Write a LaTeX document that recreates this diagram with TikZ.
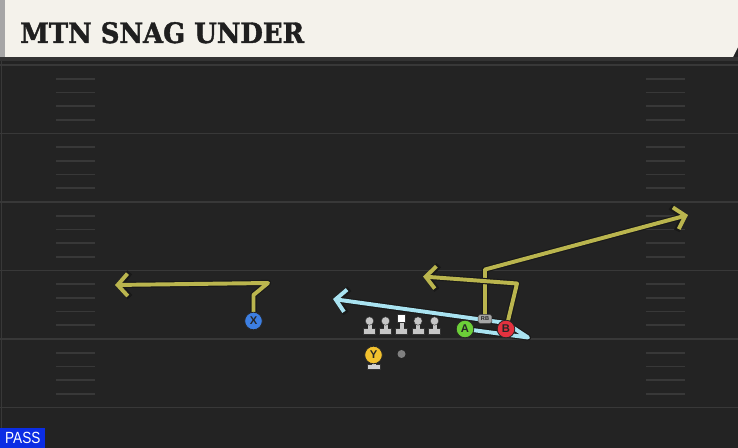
\documentclass[tikz,border=0pt]{standalone}
\usepackage{fontspec}
\usetikzlibrary{arrows.meta}
\newfontfamily\titlefont[FakeBold=1.6]{DejaVu Serif Bold}
\newfontfamily\tagfont{Liberation Sans}
\definecolor{turf}{HTML}{232323}
\definecolor{stripe}{HTML}{383838}
\definecolor{banner}{HTML}{F4F2EB}
\definecolor{routegold}{HTML}{BAB54E}
\definecolor{routeice}{HTML}{A9E3F1}
\definecolor{xblue}{HTML}{3D7FE2}
\definecolor{ygold}{HTML}{F2C12E}
\definecolor{agreen}{HTML}{6CCF38}
\definecolor{bred}{HTML}{E3323F}
\definecolor{passblue}{HTML}{0B2DE4}
\definecolor{lineman}{HTML}{C6C6C6}

\begin{document}
\begin{tikzpicture}[x=0.25mm,y=-0.25mm,
  yardline/.style={draw=stripe,line width=1.4pt},
  hashmark/.style={draw=stripe,line width=1.2pt},
  player/.style={circle,draw=black!85,line width=0.6pt,minimum size=4.4mm,inner sep=0pt,
    font=\tagfont\bfseries\fontsize{8}{8}\selectfont,text=black!85},
  routeshade/.style={draw=black!90,line width=4.4pt,line join=round,
    -{Straight Barb[length=2.7mm,width=6.2mm]}},
  route/.style={draw=#1,line width=2.8pt,line join=round,
    -{Straight Barb[length=2.5mm,width=5.6mm]}}]
\useasboundingbox (0,0) rectangle (738,448);
\fill [turf] (0,0) rectangle (738,448);
\draw [stripe,line width=0.8pt] (1.5,60) -- (1.5,448);
\foreach \y in {65,133.5,202,270.5,339,407.5}
	\draw [yardline] (0,\y) -- (738,\y);
\foreach \y in {65,133.5,202,270.5,339}
	\foreach \k in {1,...,4} {
		\draw [hashmark] (56,\y+\k*13.7) -- (95,\y+\k*13.7);
		\draw [hashmark] (646,\y+\k*13.7) -- (685,\y+\k*13.7);
	}
\fill [black!80] (0,57) rectangle (738,61);
\fill [banner] (0,0) -- (738,0) -- (738,47) -- (733,57) -- (0,57) -- cycle;
\fill [black!35] (0,0) rectangle (5,57);
\node [anchor=base west,inner sep=0pt,xscale=0.92,text=black!88,font=\titlefont\fontsize{20}{24}\selectfont] (title) at (20,43) {MTN SNAG UNDER};
\node [fill=passblue,anchor=south west,minimum width=11.25mm,minimum height=5mm,inner sep=0pt] (playtype) at (0,448) {};
\node [text=white,xscale=0.84,font=\tagfont\fontsize{11.5}{12}\selectfont] (playlabel) at (playtype.center) {PASS};

\coordinate (x) at (253.5,321);
\coordinate (y) at (373.5,355);
\coordinate (a) at (465,329);
\coordinate (b) at (506,329);
\coordinate (rb) at (485,319);
\coordinate (x1) at (253.5,295);
\coordinate (x2) at (268,283);
\coordinate (xend) at (115,285);
\coordinate (rb1) at (485,269.5);
\coordinate (rbend) at (688,215);
\coordinate (b1) at (517,283.5);
\coordinate (bend) at (423,276.5);
\coordinate (a1) at (528,337.5);
\coordinate (a2) at (506,323);
\coordinate (aend) at (333,299);

\draw [routeshade] (a) -- (a1) -- (a2) -- (aend);
\draw [route=routeice] (a) -- (a1) -- (a2) -- (aend);
\draw [routeshade] (x) -- (x1) -- (x2) -- (xend);
\draw [route=routegold] (x) -- (x1) -- (x2) -- (xend);
\draw [routeshade] (rb) -- (rb1) -- (rbend);
\draw [route=routegold] (rb) -- (rb1) -- (rbend);
\draw [routeshade] (b) -- (b1) -- (bend);
\draw [route=routegold] (b) -- (b1) -- (bend);

\foreach \lx in {369.5,385.5,418,434.5} {
	\fill [lineman,draw=black!80,line width=0.3pt] (\lx-6,328) rectangle (\lx+6,334);
	\fill [lineman] (\lx-2,321) rectangle (\lx+2,329);
	\fill [lineman,draw=black!80,line width=0.3pt] (\lx,321) circle (4.2);
}
\fill [lineman,draw=black!80,line width=0.3pt] (395.5,328) rectangle (407.5,334);
\fill [lineman] (399.5,321) rectangle (403.5,329);
\node [fill=white,draw=black!80,line width=0.3pt,minimum size=2mm,inner sep=0pt] (center) at (401.5,318.5) {};
\node [circle,fill=black!50,minimum size=2mm,inner sep=0pt] (ball) at (401.5,354) {};
\fill [lineman!80,draw=black!80,line width=0.3pt] (367,364) rectangle (380,369);
\fill [lineman!80] (371.5,360) rectangle (375.5,365);

\node [player,fill=xblue] (X) at (x) {X};
\node [player,fill=ygold] (Y) at (y) {Y};
\node [player,fill=agreen] (A) at (a) {A};
\node [player,fill=bred] (B) at (b) {B};
\node [rounded corners=1.2pt,fill=black!35,draw=black!80,line width=0.3pt,minimum width=3.4mm,minimum height=2.3mm,inner sep=0pt,
  text=black!85,font=\tagfont\bfseries\fontsize{4}{4}\selectfont] (RB) at (rb) {RB};
\end{tikzpicture}
\end{document}
